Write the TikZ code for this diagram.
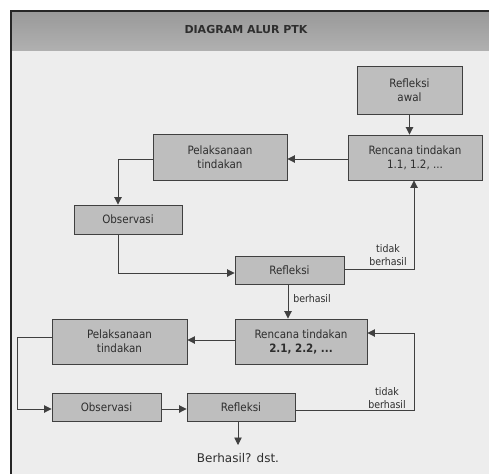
\documentclass[tikz,border=0pt]{standalone}
\usepackage{fontspec}
\setmainfont{DejaVu Sans}
\newfontfamily\condfont{DejaVu Sans Condensed}
\usetikzlibrary{arrows.meta}
\definecolor{boxfill}{HTML}{BEBEBE}
\definecolor{edgecol}{HTML}{404040}
\definecolor{bgcol}{HTML}{EDEDED}
\definecolor{txtcol}{HTML}{2E2E2E}
\tikzset{
  stepbox/.style={draw=edgecol, line width=0.9pt, fill=boxfill, text=txtcol,
    font=\condfont\fontsize{11.5}{14}\selectfont, align=center, inner sep=0pt},
  conn/.style={draw=edgecol, line width=0.9pt},
  arr/.style={conn, -{Triangle[length=7.5pt,width=7.5pt]}},
  lbl/.style={text=txtcol, font=\condfont\fontsize{10.5}{13}\selectfont, align=center, inner sep=0pt}
}
\begin{document}
\begin{tikzpicture}[x=1pt,y=-1pt]
\useasboundingbox (0,0) rectangle (489,474);
% background
\fill[white] (0,0) rectangle (489,474);
\fill[bgcol] (11,11) rectangle (489,474);
\shade[top color=black!40, middle color=black!23, bottom color=black!31] (11,11) rectangle (489,50);
\draw[black!85, line width=2pt] (11,474) -- (11,11) -- (489,11);
\node[font=\bfseries\fontsize{11}{13}\selectfont, text=txtcol] (title) at (246,29) {DIAGRAM ALUR PTK};
% boxes
\node[stepbox, minimum width=105pt, minimum height=48pt] (awal) at (409.5,90) {Refleksi\\awal};
\node[stepbox, minimum width=134pt, minimum height=45pt] (r1) at (415,157.5) {Rencana tindakan\\1.1, 1.2, ...};
\node[stepbox, minimum width=134pt, minimum height=46pt] (p1) at (220,157) {Pelaksanaan\\tindakan};
\node[stepbox, minimum width=108pt, minimum height=29pt] (o1) at (128,219.5) {Observasi};
\node[stepbox, minimum width=109pt, minimum height=28pt] (f1) at (289.5,270) {Refleksi};
\node[stepbox, minimum width=132pt, minimum height=45pt] (r2) at (301,341.5) {Rencana tindakan\\\textbf{2.1, 2.2, ...}};
\node[stepbox, minimum width=135pt, minimum height=45pt] (p2) at (119.5,341.5) {Pelaksanaan\\tindakan};
\node[stepbox, minimum width=109pt, minimum height=28pt] (o2) at (106.5,407) {Observasi};
\node[stepbox, minimum width=108pt, minimum height=28pt] (f2) at (241,407) {Refleksi};
\node[text=txtcol, font=\fontsize{12}{14}\selectfont, inner sep=0pt] (dst) at (238,458) {Berhasil? dst.};
% labels
\node[lbl] (tb1) at (388,255) {tidak\\berhasil};
\node[lbl] (bh) at (312,299) {berhasil};
\node[lbl] (tb2) at (387,398) {tidak\\berhasil};
% coordinates
\coordinate (c1) at (118,159);
\coordinate (c2) at (118,273);
\coordinate (c3) at (414,269);
\coordinate (c4) at (17,337);
\coordinate (c5) at (17,409);
\coordinate (c6) at (414,410);
\coordinate (c7) at (414,333);
\coordinate (c8) at (238,445);
% connectors
\draw[arr] (awal.south) -- (awal.south |- r1.north);
\draw[arr] (r1.west |- 0,159) -- (p1.east |- 0,159);
\draw[arr] (p1.west |- c1) -- (c1) -- (c1 |- o1.north);
\draw[arr] (c1 |- o1.south) -- (c2) -- (f1.west |- c2);
\draw[arr] (f1.east |- c3) -- (c3) -- (c3 |- r1.south);
\draw[arr] (f1.south -| 288,0) -- (288,0 |- r2.north);
\draw[arr] (r2.west |- 0,340) -- (p2.east |- 0,340);
\draw[arr] (p2.west |- c4) -- (c4) -- (c5) -- (o2.west |- c5);
\draw[arr] (o2.east |- c5) -- (f2.west |- c5);
\draw[arr] (f2.east |- c6) -- (c6) -- (c7) -- (r2.east |- c7);
\draw[arr] (f2.south -| c8) -- (c8);
\end{tikzpicture}
\end{document}
